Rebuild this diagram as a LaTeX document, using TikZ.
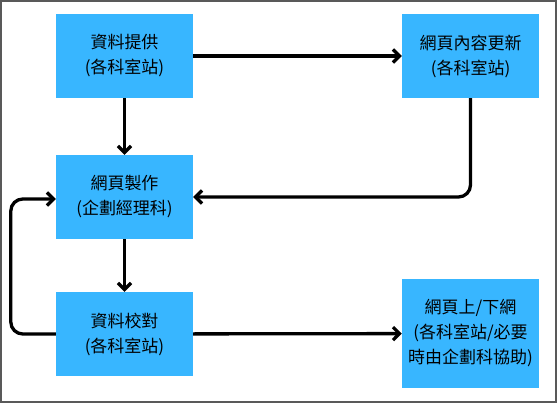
\documentclass[tikz,border=0pt]{standalone}
\usepackage{fontspec}
\newfontfamily\cjk{Noto Sans CJK TC}
\usepackage{xcolor}
\usetikzlibrary{arrows.meta}
\definecolor{boxblue}{RGB}{56,182,255}

\begin{document}
\begin{tikzpicture}[x=1pt,y=-1pt,>={Straight Barb[length=6.5pt,width=13pt]}, font=\cjk\fontsize{17}{25}\selectfont]
  \tikzset{
    task/.style={fill=boxblue, minimum width=137pt, minimum height=84pt, align=center, inner sep=0pt},
    flow/.style={->, line width=3.3pt, rounded corners=12pt}
  }
  \def\xl{124.5}
  \def\xr{470.5}

  % Frame
  \useasboundingbox (0,0) rectangle (558,404);
  \draw[line width=1.2pt, black!65] (1,1) rectangle (556,402);

  % Boxes
  \node[task] (supply) at (\xl,56) {資料提供\\(各科室站)};
  \node[task] (update) at (\xr,56) {網頁內容更新\\(各科室站)};
  \node[task] (make) at (\xl,197) {網頁製作\\(企劃經理科)};
  \node[task] (check) at (\xl,334) {資料校對\\(各科室站)};
  \node[task, minimum height=109pt] (online) at (\xr,333.5) {網頁上/下網\\(各科室站/必要\\時由企劃科協助)};

  % Flow arrows
  \draw[flow] (supply) -- (update);
  \draw[flow] (supply) -- (make);
  \draw[flow] (update.south) |- (make.east);
  \draw[flow] (make) -- (check);
  \draw[flow] (check) -- (online);
  \draw[flow] (check.west) -- ++(-45,0) |- ([yshift=-2pt]make.west);
\end{tikzpicture}
\end{document}
